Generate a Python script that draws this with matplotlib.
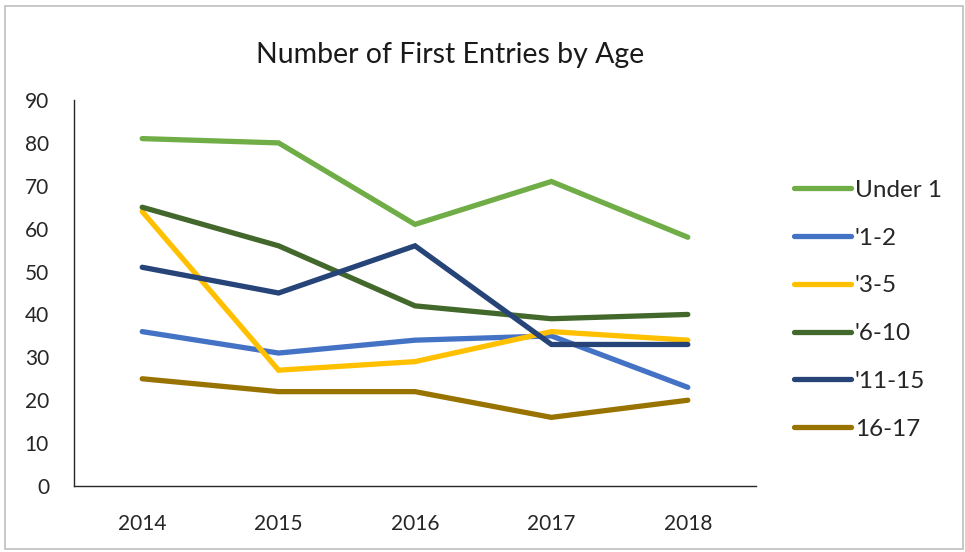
import matplotlib
matplotlib.use("Agg")
import matplotlib.pyplot as plt
from matplotlib.patches import Rectangle

years = ["2014", "2015", "2016", "2017", "2018"]
series_names = ["Under 1", "'1-2", "'3-5", "'6-10", "'11-15", "16-17"]
under1 = [81, 80, 61, 71, 58]
age1_2 = [36, 31, 34, 35, 23]
age3_5 = [64, 27, 29, 36, 34]
age6_10 = [65, 56, 42, 39, 40]
age11_15 = [51, 45, 56, 33, 33]
age16_17 = [25, 22, 22, 16, 20]
series_values = [under1, age1_2, age3_5, age6_10, age11_15, age16_17]
colors = ["#70AD47", "#4472C4", "#FFC000", "#43682B", "#264478", "#997300"]
yticks = [0, 10, 20, 30, 40, 50, 60, 70, 80, 90]

plt.rcParams['font.family'] = ['Lato', 'DejaVu Sans']

fig = plt.figure(figsize=(9.65, 5.52), dpi=100)
ax = fig.add_axes([74/965, (552-486)/552, (756-74)/965, (486-100)/552])

x = list(range(len(years)))
handles = []
for name, vals, c in zip(series_names, series_values, colors):
    h, = ax.plot(x, vals, color=c, lw=3.8, solid_capstyle='round', solid_joinstyle='miter', label=name)
    handles.append(h)

ax.set_xlim(-0.5, 4.5)
ax.set_ylim(0, 90)
ax.set_xticks(x)
ax.set_xticklabels(years)
ax.set_yticks(yticks)
ax.tick_params(length=0, labelsize=15, colors='#262626')
ax.tick_params(axis='x', pad=20)
ax.tick_params(axis='y', pad=18)
for s in ['top', 'right']:
    ax.spines[s].set_visible(False)
for s in ['left', 'bottom']:
    ax.spines[s].set_color('#262626')
    ax.spines[s].set_linewidth(1.0)

fig.text(450/965, 1 - 55/552, "Number of First Entries by Age", ha='center', va='center',
         fontsize=20.5, color='#1a1a1a')

leg = fig.legend(handles=handles, labels=series_names, loc='upper left',
                 bbox_to_anchor=(772/965, 1 - 158/552), frameon=False,
                 fontsize=17.5, handlelength=2.35, handletextpad=0.15,
                 labelspacing=1.1, labelcolor='#262626')

fig.patches.append(Rectangle((5/965, 1 - 549/552), (963-5)/965, (549-6)/552,
                             transform=fig.transFigure, fill=False,
                             edgecolor='#BFBFBF', lw=1.2))

fig.savefig("out.png", dpi=100)
